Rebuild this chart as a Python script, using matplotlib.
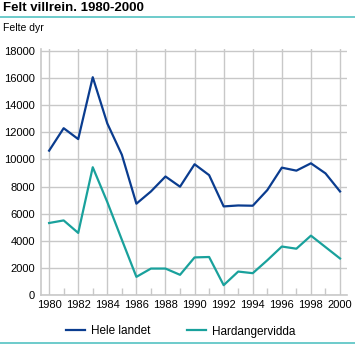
import matplotlib
matplotlib.use("Agg")
import matplotlib.pyplot as plt
from matplotlib.lines import Line2D

plt.rcParams['font.family'] = ['Liberation Sans', 'DejaVu Sans']

years = list(range(1980, 2001))
hele_landet = [10650, 12300, 11500, 16050, 12650, 10350, 6750, 7650, 8750, 8000,
               9650, 8850, 6550, 6620, 6600, 7750, 9400, 9180, 9720, 8980, 7650]
hardangervidda = [5330, 5520, 4600, 9430, 6870, 4100, 1370, 1980, 1980, 1520,
                  2800, 2830, 760, 1760, 1640, 2590, 3600, 3440, 4400, 3560, 2720]

blue = '#0A3C8F'
teal = '#19A19C'
grid = '#C8C8C8'

fig = plt.figure(figsize=(3.55, 3.45), dpi=100)
ax = fig.add_axes([0.1146, 0.1435, 0.8637, 0.7145])

ax.plot(years, hele_landet, color=blue, lw=1.6, label='Hele landet', zorder=3)
ax.plot(years, hardangervidda, color=teal, lw=1.6, label='Hardangervidda', zorder=3)

ax.set_xlim(1979.42, 2000.5)
ax.set_ylim(0, 18125)
ax.set_xticks(range(1980, 2001, 2))
ax.set_xticks(range(1981, 2001, 2), minor=True)
ax.set_yticks(range(0, 18001, 2000))
ax.grid(True, which='major', color=grid, lw=1.0)
ax.set_axisbelow(True)

ax.tick_params(axis='both', which='major', length=0, labelsize=8, colors='black')
ax.tick_params(axis='x', which='major', pad=3)
ax.tick_params(axis='y', which='major', pad=4)
ax.tick_params(axis='x', which='minor', direction='in', length=5, width=1.0, color=grid)

for side in ['top', 'right']:
    ax.spines[side].set_visible(False)
for side in ['left', 'bottom']:
    ax.spines[side].set_color(grid)
    ax.spines[side].set_linewidth(1.2)

fig.text(3 / 355, 1 - 8 / 345, 'Felt villrein. 1980-2000', fontsize=9.5,
         fontweight='bold', va='center', ha='left')
fig.add_artist(Line2D([0, 1], [1 - 17.3 / 345, 1 - 17.3 / 345], color='#6CCBCB', lw=1.4))
fig.text(3 / 355, 1 - 28 / 345, 'Felte dyr', fontsize=7.5, va='center', ha='left')
fig.add_artist(Line2D([0, 1], [1 - 342.5 / 345, 1 - 342.5 / 345], color='#6CCBCB', lw=1.4))

fig.legend(loc='center left', bbox_to_anchor=(66 / 355, 1 - 331.5 / 345), ncol=2,
           frameon=False, fontsize=8.5, handlelength=1.6, handletextpad=0.5,
           columnspacing=3.1, borderaxespad=0, borderpad=0)

fig.savefig('out.png', dpi=100)
